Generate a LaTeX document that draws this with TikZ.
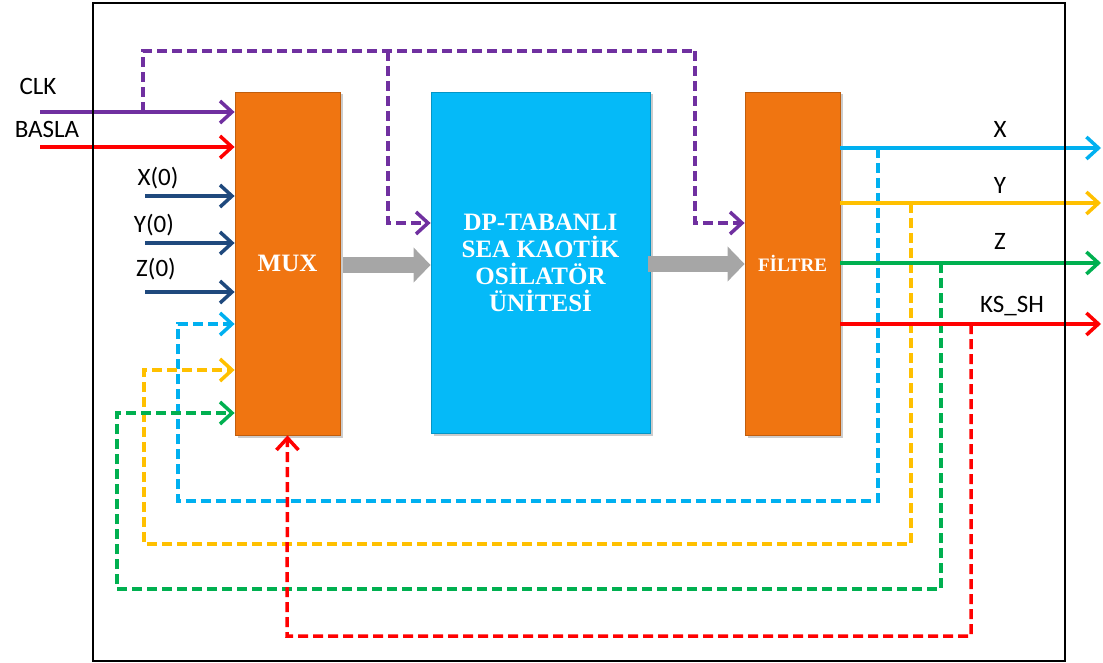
\documentclass[tikz,border=0pt]{standalone}
\usepackage{fontspec}
\setmainfont{Carlito}
\newfontfamily\boxfont{Liberation Serif}
\usetikzlibrary{arrows.meta,shadows}
\definecolor{cpurple}{HTML}{7030A0}
\definecolor{cred}{HTML}{FF0000}
\definecolor{cnavy}{HTML}{1F497D}
\definecolor{ccyan}{HTML}{00B0F0}
\definecolor{cyellow}{HTML}{FFC000}
\definecolor{cgreen}{HTML}{00B050}
\definecolor{corange}{HTML}{F07511}
\definecolor{cblue}{HTML}{05BAF8}
\definecolor{cgray}{HTML}{A6A6A6}
\begin{document}
\begin{tikzpicture}[x=1pt,y=-1pt,
  lbl/.style={font=\fontsize{25}{30}\selectfont, inner sep=0pt},
  blk/.style={draw=#1!80!black, line width=0.8pt, fill=#1, inner sep=0pt,
    text=white, align=center,
    drop shadow={shadow xshift=2.5pt,shadow yshift=-2.5pt,opacity=0.4}},
  blkfont/.style={font=\boxfont\bfseries\fontsize{#1}{27}\selectfont},
  sig/.style={line width=3.5pt, draw=#1,
    -{Straight Barb[length=12pt,width=22pt,line width=3.5pt]}},
  fb/.style={line width=3.5pt, draw=#1, dash pattern=on 10pt off 5pt},
  fbarrow/.style={fb=#1,
    -{Straight Barb[length=12pt,width=22pt,line width=3.5pt]}},
  bigarrow/.style={draw=cgray, line width=16pt,
    -{Triangle[length=17pt,width=34pt]}}
]
\useasboundingbox (0,0) rectangle (1103,663);

% blocks
\node[blk=corange, blkfont=25, minimum width=105pt, minimum height=343pt] (mux) at (287.5,263.5) {MUX};
\node[blk=cblue, blkfont=25, minimum width=219pt, minimum height=341pt] (osc) at (540.5,262.5) {DP-TABANLI\\SEA KAOTİK\\OSİLATÖR\\ÜNİTESİ};
\node[blk=corange, blkfont=19, minimum width=95pt, minimum height=343pt] (filt) at (792.5,263.5) {FİLTRE};

% coordinates
\coordinate (clkin) at (40,112);
\coordinate (clkbr) at (143,112);
\coordinate (ptl) at (143,51);
\coordinate (ptm) at (388,51);
\coordinate (ptr) at (695,51);
\coordinate (pom) at (388,223);
\coordinate (por) at (695,223);
\coordinate (baslain) at (40,147);
\coordinate (x0in) at (145,196);
\coordinate (y0in) at (145,243);
\coordinate (z0in) at (145,292);

\coordinate (xout) at (1101,148);
\coordinate (yout) at (1101,203);
\coordinate (zout) at (1101,263);
\coordinate (kout) at (1101,324);

\coordinate (xbr) at (878,148);
\coordinate (ybr) at (911,203);
\coordinate (zbr) at (941,263);
\coordinate (kbr) at (971,324);

\coordinate (xb1) at (878,501);
\coordinate (xb2) at (178,501);
\coordinate (xb3) at (178,324);
\coordinate (yb1) at (911,544);
\coordinate (yb2) at (144,544);
\coordinate (yb3) at (144,370);
\coordinate (zb1) at (941,589);
\coordinate (zb2) at (117,589);
\coordinate (zb3) at (117,413);
\coordinate (kb1) at (971,636);
\coordinate (kb2) at (287,636);

% big gray arrows
\draw[bigarrow] ([xshift=3pt,yshift=-1.5pt]mux.east) -- ([yshift=-1.5pt]mux.east -| osc.west);
\draw[bigarrow] ([xshift=-2pt,yshift=-1.5pt]osc.east) -- ([yshift=-1.5pt]osc.east -| filt.west);

% purple dashed clock distribution
\draw[fb=cpurple] (clkbr) -- (ptl) -- (ptr);
\draw[fbarrow=cpurple] (ptm) -- (pom) -- (pom -| osc.west);
\draw[fbarrow=cpurple] (ptr) -- (por) -- (por -| filt.west);

% feedback lines
\draw[fbarrow=ccyan] (xbr) -- (xb1) -- (xb2) -- (xb3) -- (xb3 -| mux.west);
\draw[fbarrow=cyellow] (ybr) -- (yb1) -- (yb2) -- (yb3) -- (yb3 -| mux.west);
\draw[fbarrow=cgreen] (zbr) -- (zb1) -- (zb2) -- (zb3) -- (zb3 -| mux.west);
\draw[fbarrow=cred] (kbr) -- (kb1) -- (kb2) -- (mux.south);

% inputs
\draw[sig=cpurple] (clkin) -- (clkin -| mux.west);
\draw[sig=cred] (baslain) -- (baslain -| mux.west);
\draw[sig=cnavy] (x0in) -- (x0in -| mux.west);
\draw[sig=cnavy] (y0in) -- (y0in -| mux.west);
\draw[sig=cnavy] (z0in) -- (z0in -| mux.west);

% outputs
\draw[sig=ccyan] (xout -| filt.east) -- (xout);
\draw[sig=cyellow] (yout -| filt.east) -- (yout);
\draw[sig=cgreen] (zout -| filt.east) -- (zout);
\draw[sig=cred] (kout -| filt.east) -- (kout);

% frame
\draw[line width=2.2pt] (93,3) rectangle (1065,661);

% labels
\node[lbl] (lclk) at (38,86) {CLK};
\node[lbl] (lbasla) at (47,129) {BASLA};
\node[lbl] (lx0) at (158,178) {X(0)};
\node[lbl] (ly0) at (154,225) {Y(0)};
\node[lbl] (lz0) at (156,269) {Z(0)};
\node[lbl] (lx) at (1000,129) {X};
\node[lbl] (ly) at (1000,185) {Y};
\node[lbl] (lz) at (1000,241) {Z};
\node[lbl] (lks) at (1012,306) {KS\_SH};
\end{tikzpicture}
\end{document}
